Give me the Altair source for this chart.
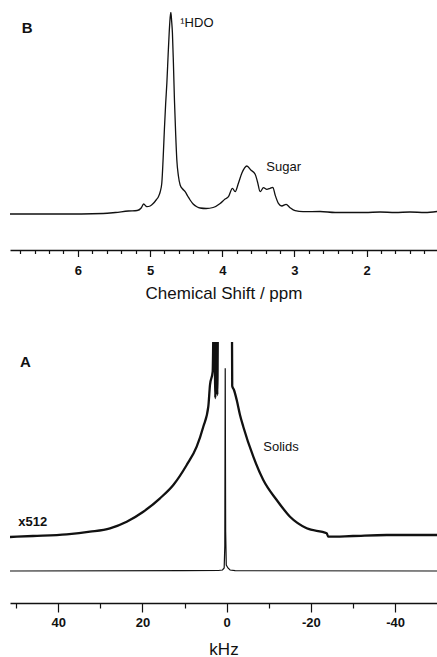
import altair as alt
import pandas as pd

FONT = "Liberation Sans"
INK = "#111111"

# ---------------- Panel B : 1H spectrum (ppm) ----------------
b_ppm = [6.94, 6.25, 5.65, 5.48, 5.30, 5.179, 5.123, 5.089, 5.044, 4.999, 4.953,
         4.916, 4.884, 4.860, 4.837, 4.819, 4.801, 4.784, 4.767, 4.749, 4.735,
         4.722, 4.712, 4.701, 4.690, 4.676, 4.662, 4.645, 4.629, 4.607, 4.583,
         4.548, 4.514, 4.479, 4.445, 4.403, 4.352, 4.306, 4.223, 4.126, 4.029,
         3.960, 3.914, 3.859, 3.821, 3.776, 3.729, 3.659, 3.604, 3.544, 3.512,
         3.475, 3.429, 3.382, 3.337, 3.299, 3.267, 3.222, 3.175, 3.115, 3.060,
         2.990, 2.880, 2.644, 2.436, 2.229, 2.021, 1.813, 1.605, 1.399, 1.191, 1.025]
b_int = [0, 0, 0.5, 1.5, 3, 3.5, 6, 10, 7.3, 8, 10.7,
         14, 17.3, 22, 31, 55, 85, 110, 131, 160, 181,
         196, 201.7, 193, 181, 150, 114, 80, 54, 38, 29,
         25, 22.3, 18, 14, 10, 7.3, 6, 5.5, 6.5, 10.5,
         15, 17.3, 25.7, 22.3, 30.7, 40.7, 48, 44, 39.7, 32.3,
         22.3, 26.3, 24.7, 25.7, 26.7, 19, 10.7, 8, 9.7, 6.3,
         3.3, 2.3, 2.5, 1.5, 1.5, 1.5, 2, 1.5, 2, 1.5, 2.5]
b_ticks = [6.8, 6.6, 6.4, 6.2, 6.0, 5.8, 5.6, 5.4, 5.2, 5.0, 4.8, 4.6, 4.4, 4.2,
           4.0, 3.8, 3.6, 3.4, 3.2, 3.0, 2.8, 2.6, 2.4, 2.2, 2.0, 1.8, 1.6, 1.4, 1.2]

b_head = ["B"]
b_head_ppm = [6.776]
b_head_int = [180.7]
b_notes = ["\u00b9HDO", "Sugar"]
b_notes_ppm = [4.581, 3.39]
b_notes_int = [187.3, 43]

# ---------------- Panel A : wide-line spectrum (kHz) ----------------
a_top_khz = [51.47, 46.01, 38.00, 32.47, 27.72, 23.75, 19.81, 15.84, 12.68, 9.50,
             7.13, 5.56, 4.37, 3.97, 3.33, 2.95, 2.71, 2.47, 2.23, 2.00, 1.59,
             -1.19, -1.31, -1.73, -2.38, -3.16, -3.94, -6.32, -8.69, -11.88,
             -15.04, -19.00, -23.75, -24.13, -30.00, -38.00, -49.95]
a_top_int = [34, 35, 36.7, 39.3, 42.7, 49.3, 59.3, 72.7, 86, 106,
             124.3, 144.3, 164.3, 186, 199.3, 300, 173, 300, 176, 300, 300,
             300, 185, 181, 171, 156, 144.3, 114.3, 91, 71,
             54.3, 42.7, 37.7, 34.3, 35, 36, 36]
a_low_khz = [51.47, 10, 2, 1.0, 0.6, 0.45, 0.35, 0.25, 0.1, -0.3, -0.8, -2, -49.95]
a_low_int = [0, 0.3, 0.5, 1, 3, 25, 202.7, 40, 6, 3, 1, 0.3, 0]
a_ticks = [50, 40, 30, 20, 10, 0, -10, -20, -30, -40]

a_head = ["A"]
a_head_khz = [49.1]
a_head_int = [204.3]
a_bold = ["x512"]
a_bold_khz = [49.5]
a_bold_int = [45]
a_notes = ["Solids"]
a_notes_khz = [-8.69]
a_notes_int = [120.3]


def axis_common(**kw):
    base = dict(
        domainColor=INK, domainWidth=1.3, tickColor=INK, tickWidth=1.2,
        labelFont=FONT, labelFontSize=13, labelFontWeight="bold", labelColor=INK,
        titleFont=FONT, titleFontSize=17, titleFontWeight="normal", titleColor=INK,
        grid=False, labelOverlap=False, labelFlush=False, labelAngle=0,
    )
    base.update(kw)
    return alt.Axis(**base)


# ---- Panel B chart ----
bx = alt.X("ppm:Q",
           scale=alt.Scale(domain=[1.025, 6.94], reverse=True, nice=False, zero=False),
           axis=axis_common(values=b_ticks, title="Chemical Shift / ppm",
                            labelExpr="datum.value % 1 === 0 ? '' + datum.value : ''",
                            tickSize={"condition": {"test": "datum.value % 1 === 0", "value": 6.5},
                                      "value": 3.5},
                            labelPadding=8, titlePadding=8))
by = alt.Y("I:Q", scale=alt.Scale(domain=[-36, 202], nice=False, zero=False), axis=None)

b_line = alt.Chart(pd.DataFrame({"ppm": b_ppm, "I": b_int})).mark_line(
    color=INK, strokeWidth=1.3, clip=True, interpolate="monotone").encode(x=bx, y=by)
b_t1 = alt.Chart(pd.DataFrame({"ppm": b_head_ppm, "I": b_head_int, "t": b_head})).mark_text(
    align="left", baseline="alphabetic", font=FONT, fontSize=15, fontWeight="bold", color=INK
).encode(x=bx, y=by, text="t:N")
b_t2 = alt.Chart(pd.DataFrame({"ppm": b_notes_ppm, "I": b_notes_int, "t": b_notes})).mark_text(
    align="left", baseline="alphabetic", font=FONT, fontSize=13, fontWeight="normal", color=INK
).encode(x=bx, y=by, text="t:N")

chart_b = alt.layer(b_line, b_t1, b_t2).properties(width=427, height=238)

# ---- Panel A chart ----
ax = alt.X("khz:Q",
           scale=alt.Scale(domain=[-49.95, 51.47], reverse=True, nice=False, zero=False),
           axis=axis_common(values=a_ticks, title="kHz",
                            labelExpr="datum.value % 20 === 0 ? '' + datum.value : ''",
                            tickSize={"condition": {"test": "datum.value % 20 === 0", "value": 9},
                                      "value": 5},
                            labelPadding=4, titlePadding=12))
ay = alt.Y("I:Q", scale=alt.Scale(domain=[-32, 229], nice=False, zero=False), axis=None)

a_upper = alt.Chart(pd.DataFrame({"khz": a_top_khz, "I": a_top_int})).mark_line(
    color=INK, strokeWidth=2.3, clip=True, interpolate="monotone").encode(x=ax, y=ay)
a_lower = alt.Chart(pd.DataFrame({"khz": a_low_khz, "I": a_low_int})).mark_line(
    color=INK, strokeWidth=1.2, clip=True).encode(x=ax, y=ay)
a_t1 = alt.Chart(pd.DataFrame({"khz": a_head_khz, "I": a_head_int, "t": a_head})).mark_text(
    align="left", baseline="alphabetic", font=FONT, fontSize=15, fontWeight="bold", color=INK
).encode(x=ax, y=ay, text="t:N")
a_t2 = alt.Chart(pd.DataFrame({"khz": a_bold_khz, "I": a_bold_int, "t": a_bold})).mark_text(
    align="left", baseline="alphabetic", font=FONT, fontSize=13, fontWeight="bold", color=INK
).encode(x=ax, y=ay, text="t:N")
a_t3 = alt.Chart(pd.DataFrame({"khz": a_notes_khz, "I": a_notes_int, "t": a_notes})).mark_text(
    align="left", baseline="alphabetic", font=FONT, fontSize=13, fontWeight="normal", color=INK
).encode(x=ax, y=ay, text="t:N")

chart_a = alt.layer(a_upper, a_lower, a_t1, a_t2, a_t3).properties(width=427, height=261)

chart = alt.vconcat(chart_b, chart_a, spacing=92, bounds="flush").properties(
    padding={"left": 10, "top": 12, "right": 0, "bottom": 0},
    background="white",
).configure_view(stroke=None)

chart.save("out.html", embed_options={"renderer": "svg", "actions": False})
